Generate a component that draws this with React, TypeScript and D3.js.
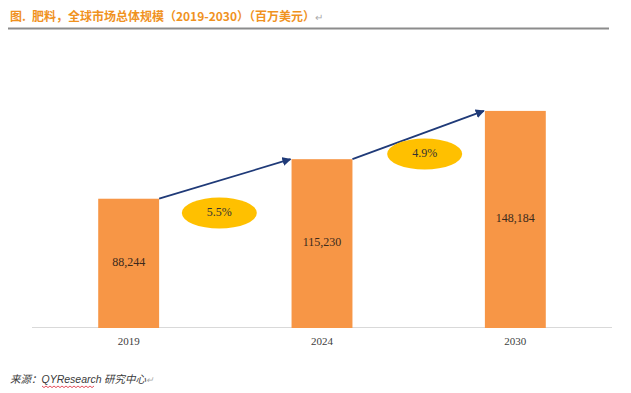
import * as d3 from 'd3';

const years = ['2019', '2024', '2030'];
const values = [88244, 115230, 148184];
const cagrLabels = ['5.5%', '4.9%'];

const titleHead = '图.';
const title = '肥料，全球市场总体规模（2019-2030）（百万美元）';
const sourceLabel = '来源：';
const sourceName = 'QYResearch';
const sourceTail = ' 研究中心';

export default function App() {
    const width = 631;
    const height = 393;

    const margins = { top: 40, bottom: 66, left: 32, right: 19 };
    const baseY = height - margins.bottom; // 327

    const xScale = d3
        .scaleBand()
        .domain(years)
        .range([margins.left, width - margins.right])
        .paddingInner(0.685)
        .paddingOuter(0.3425);

    // 0 sits on the axis line, height per unit
    const yScale = d3.scaleLinear().domain([0, 160000]).range([baseY + 1, baseY + 1 - 234.4]);

    const bw = xScale.bandwidth();
    const fmt = d3.format(',');

    // hand placed bubbles in the original, so small nudges
    const bubbleDx = [-6, 6];
    const bubbleDy = [34, 19];

    const serif = '"Liberation Serif", "Times New Roman", serif';
    const cjk = '"Noto Sans CJK SC", "Noto Sans", sans-serif';

    // squiggle under QYResearch
    const squiggle = d3.range(0, 54, 2).map((d, i) => [d, i % 2 === 0 ? 0 : 1.6] as [number, number]);

    return (
        <svg
            width={width}
            height={height}
            viewBox={`0 0 ${width} ${height}`}
            style={{ position: 'absolute', left: 0, top: 0, background: '#fff' }}
        >
            <defs>
                <marker id='head' viewBox='0 0 10 10' refX='9' refY='5' markerWidth='5' markerHeight='5' orient='auto'>
                    <path d='M0,0 L10,5 L0,10 z' fill='#1F3A78' />
                </marker>
            </defs>

            <text x={10} y={21} fontFamily={cjk} fontWeight={700} fontSize={12} fill='#F0921E'>
                {titleHead}
                <tspan dx={6}>{title}</tspan>
                <tspan fill='#aaa' fontWeight={400} fontSize={10}>
                    {'↵'}
                </tspan>
            </text>
            <line x1={8} x2={609} y1={28.5} y2={28.5} stroke='#8c8c8c' strokeWidth={2} />

            <line x1={margins.left} x2={width - margins.right} y1={baseY + 0.5} y2={baseY + 0.5} stroke='#d9d9d9' />

            {years.map((yr, i) => (
                <g key={yr}>
                    <rect
                        x={xScale(yr) as number}
                        y={yScale(values[i])}
                        width={bw}
                        height={yScale(0) - yScale(values[i])}
                        fill='#F79646'
                    />
                    <text
                        x={(xScale(yr) as number) + bw / 2}
                        y={(yScale(values[i]) + yScale(0)) / 2}
                        textAnchor='middle'
                        dominantBaseline='middle'
                        fontFamily={serif}
                        fontSize={12}
                        fill='#3b2a1c'
                    >
                        {fmt(values[i])}
                    </text>
                    <text
                        x={(xScale(yr) as number) + bw / 2}
                        y={baseY + 18}
                        textAnchor='middle'
                        fontFamily={serif}
                        fontSize={11}
                        fill='#404040'
                    >
                        {yr}
                    </text>
                </g>
            ))}

            {cagrLabels.map((lab, i) => {
                const x0 = (xScale(years[i]) as number) + bw;
                const x1 = xScale(years[i + 1]) as number;
                const y0 = yScale(values[i]);
                const y1 = yScale(values[i + 1]);
                const cx = (x0 + x1) / 2 + bubbleDx[i];
                const cy = (y0 + y1) / 2 + bubbleDy[i];
                return (
                    <g key={lab}>
                        <line
                            x1={x0}
                            y1={y0}
                            x2={x1 - 1}
                            y2={y1}
                            stroke='#1F3A78'
                            strokeWidth={1.8}
                            markerEnd='url(#head)'
                        />
                        <ellipse cx={cx} cy={cy} rx={37.5} ry={15.5} fill='#FFC000' />
                        <text
                            x={cx}
                            y={cy}
                            textAnchor='middle'
                            dominantBaseline='middle'
                            fontFamily={serif}
                            fontSize={12}
                            fill='#333'
                        >
                            {lab}
                        </text>
                    </g>
                );
            })}

            <text x={10} y={383} fontFamily={cjk} fontStyle='italic' fontSize={10.5} fill='#3a3a3a'>
                {sourceLabel}
                <tspan fontFamily={'"Liberation Sans", Arial, sans-serif'}>{sourceName}</tspan>
                {sourceTail}
                <tspan fill='#aaa' fontSize={9}>
                    {'↵'}
                </tspan>
            </text>
            <path
                d={d3.line()(squiggle) as string}
                transform='translate(42,386)'
                fill='none'
                stroke='#d23'
                strokeWidth={0.8}
            />
        </svg>
    );
}
